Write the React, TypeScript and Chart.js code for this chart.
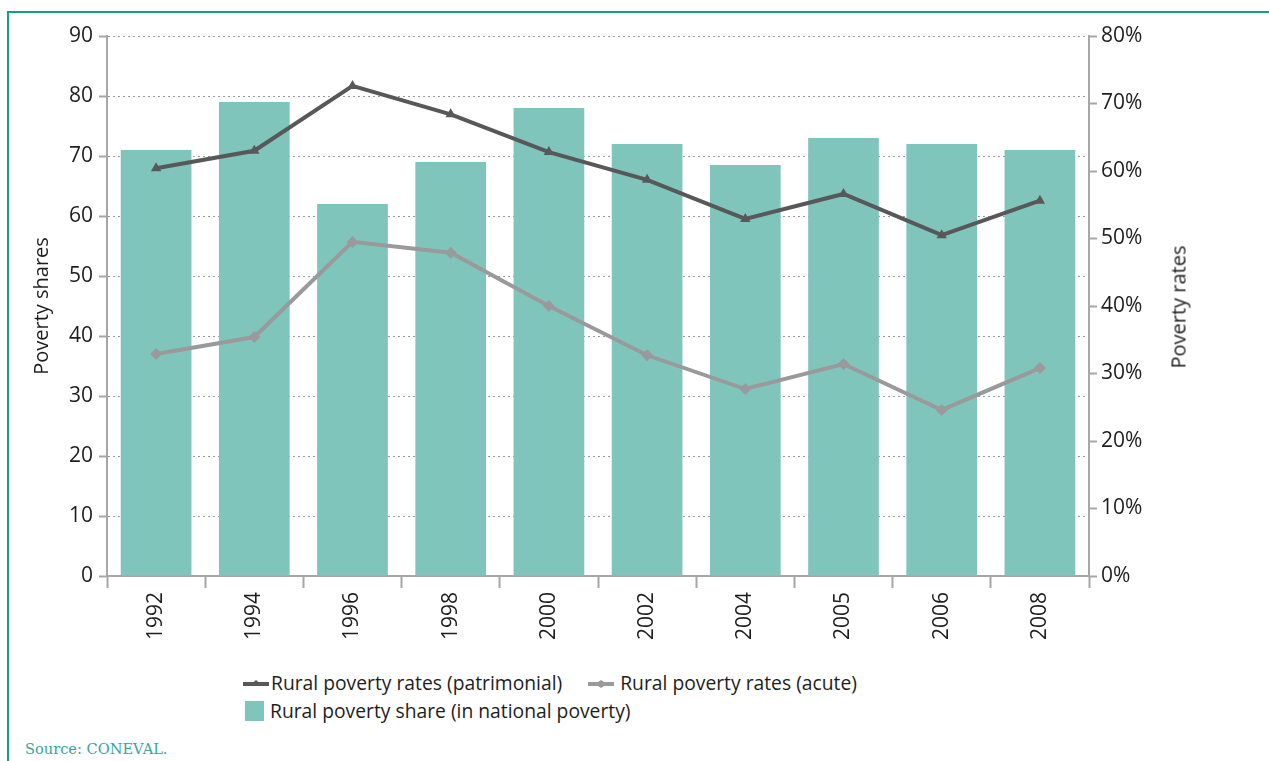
import React, { useEffect, useRef } from "react";
import { Chart, registerables } from "chart.js";

Chart.register(...registerables);

const categories = ["1992", "1994", "1996", "1998", "2000", "2002", "2004", "2005", "2006", "2008"];
const shareValues = [71, 79, 62, 69, 78, 72, 68.5, 73, 72, 71];
const patrimonialRates = [60.4, 63.0, 72.6, 68.4, 62.8, 58.7, 52.9, 56.6, 50.5, 55.6];
const acuteRates = [32.9, 35.4, 49.5, 47.9, 40.0, 32.7, 27.7, 31.4, 24.6, 30.8];

const FONT = "'Open Sans', 'Noto Sans', sans-serif";
const BAR_COLOR = "#7fc5bc";
const PAT_COLOR = "#58585a";
const ACUTE_COLOR = "#9a9a9c";
const AXIS_COLOR = "#a7a7a9";
const TEXT_COLOR = "#1e1e1e";

function LineSwatch({ color, shape }: { color: string; shape: "tri" | "dia" }) {
  return (
    <svg width="26" height="14" style={{ marginRight: 2 }}>
      <line x1="0" y1="8" x2="26" y2="8" stroke={color} strokeWidth="4" />
      {shape === "tri" ? (
        <polygon points="6,10 13,4 20,10" fill={color} />
      ) : (
        <polygon points="7,8 13,4 19,8 13,12" fill={color} />
      )}
    </svg>
  );
}

export default function App() {
  const ref = useRef<HTMLCanvasElement | null>(null);

  useEffect(() => {
    document.body.style.margin = "0";
    const ctx = ref.current!.getContext("2d")!;
    const chart = new Chart(ctx, {
      type: "bar",
      data: {
        labels: categories,
        datasets: [
          {
            type: "line",
            label: "Rural poverty rates (patrimonial)",
            data: patrimonialRates,
            yAxisID: "y2",
            borderColor: PAT_COLOR,
            backgroundColor: PAT_COLOR,
            borderWidth: 4,
            pointStyle: "triangle",
            pointRadius: 6,
            pointBorderWidth: 0,
            tension: 0,
            order: 0,
          },
          {
            type: "line",
            label: "Rural poverty rates (acute)",
            data: acuteRates,
            yAxisID: "y2",
            borderColor: ACUTE_COLOR,
            backgroundColor: ACUTE_COLOR,
            borderWidth: 4,
            pointStyle: "rectRot",
            pointRadius: 6,
            pointBorderWidth: 0,
            tension: 0,
            order: 1,
          },
          {
            type: "bar",
            label: "Rural poverty share (in national poverty)",
            data: shareValues,
            yAxisID: "y",
            backgroundColor: BAR_COLOR,
            barPercentage: 0.72,
            categoryPercentage: 1,
            order: 2,
          },
        ],
      },
      options: {
        animation: false,
        responsive: false,
        maintainAspectRatio: false,
        layout: { padding: { left: 0, right: 0, top: 36, bottom: 0 } },
        plugins: {
          legend: { display: false },
          tooltip: { enabled: false },
        },
        scales: {
          x: {
            offset: true,
            grid: {
              offset: true,
              drawOnChartArea: false,
              drawTicks: true,
              tickLength: 12,
              tickColor: AXIS_COLOR,
              tickWidth: 2,
            },
            border: { display: true, color: AXIS_COLOR, width: 2 },
            ticks: {
              maxRotation: 90,
              minRotation: 90,
              padding: 4,
              color: TEXT_COLOR,
              font: { family: FONT, size: 21 },
            },
            afterFit: (s: any) => {
              s.height = 89;
            },
          },
          y: {
            position: "left",
            min: 0,
            max: 90,
            ticks: {
              stepSize: 10,
              padding: 6,
              color: TEXT_COLOR,
              font: { family: FONT, size: 21 },
            },
            grid: {
              color: "#9a9a9a",
              lineWidth: 1,
              drawTicks: true,
              tickLength: 8,
              tickColor: AXIS_COLOR,
              tickWidth: 2,
              tickBorderDash: [],
            },
            border: { display: true, color: AXIS_COLOR, width: 2, dash: [2, 3] },
            title: {
              display: true,
              text: "Poverty shares",
              color: TEXT_COLOR,
              font: { family: FONT, size: 20 },
              padding: { top: 30, bottom: 0 },
            },
            afterFit: (s: any) => {
              s.width = 107;
            },
          },
          y2: {
            position: "right",
            min: 0,
            max: 80,
            ticks: {
              stepSize: 10,
              padding: 4,
              color: TEXT_COLOR,
              font: { family: FONT, size: 21 },
              callback: (v: any) => v + "%",
            },
            grid: {
              drawOnChartArea: false,
              drawTicks: true,
              tickLength: 8,
              tickColor: AXIS_COLOR,
              tickWidth: 2,
            },
            border: { display: true, color: AXIS_COLOR, width: 2 },
            afterFit: (s: any) => {
              s.width = 180;
            },
          },
        },
      },
    });
    return () => chart.destroy();
  }, []);

  return (
    <div
      style={{
        position: "relative",
        width: 1269,
        height: 761,
        overflow: "hidden",
        background: "#fff",
        fontFamily: FONT,
      }}
    >
      <div
        style={{
          position: "absolute",
          left: 7,
          top: 11,
          right: -10,
          bottom: -10,
          borderTop: "2px solid #179b8b",
          borderLeft: "2px solid #179b8b",
        }}
      />
      <canvas
        ref={ref}
        width={1269}
        height={665}
        style={{ position: "absolute", left: 0, top: 0, width: 1269, height: 665 }}
      />
      <div
        style={{
          position: "absolute",
          left: 1178,
          top: 307,
          transform: "translate(-50%, -50%) rotate(-90deg)",
          whiteSpace: "nowrap",
          fontSize: 20,
          color: TEXT_COLOR,
        }}
      >
        Poverty rates
      </div>
      <div
        style={{
          position: "absolute",
          left: 243,
          top: 669,
          fontSize: 19.3,
          color: TEXT_COLOR,
          lineHeight: "28px",
        }}
      >
        <div style={{ display: "flex", alignItems: "center" }}>
          <LineSwatch color={PAT_COLOR} shape="tri" />
          <span>Rural poverty rates (patrimonial)</span>
          <span style={{ width: 26 }} />
          <LineSwatch color={ACUTE_COLOR} shape="dia" />
          <span style={{ marginLeft: 4 }}>Rural poverty rates (acute)</span>
        </div>
        <div style={{ display: "flex", alignItems: "center" }}>
          <span
            style={{
              display: "inline-block",
              width: 19,
              height: 20,
              background: BAR_COLOR,
              marginLeft: 2,
              marginRight: 6,
            }}
          />
          <span>Rural poverty share (in national poverty)</span>
        </div>
      </div>
      <div
        style={{
          position: "absolute",
          left: 25,
          top: 740,
          fontSize: 14.6,
          color: "#3aa597",
          fontFamily: "'DejaVu Serif', serif",
          whiteSpace: "nowrap",
        }}
      >
        Source: CONEVAL.
      </div>
    </div>
  );
}
